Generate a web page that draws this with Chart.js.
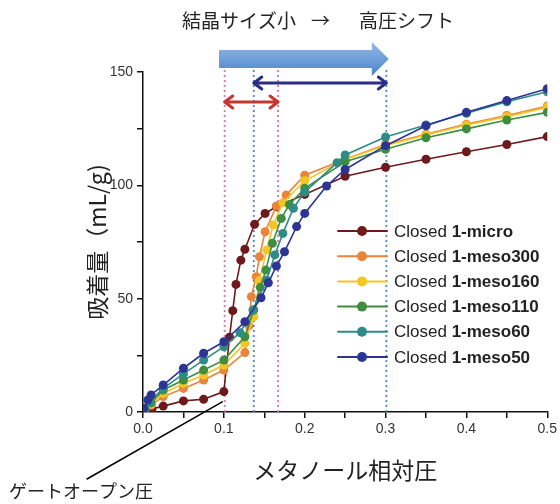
<!DOCTYPE html>
<html>
<head>
<meta charset="utf-8">
<script src="https://cdn.jsdelivr.net/npm/chart.js@4.4.1/dist/chart.umd.min.js"></script>
<style>
  html, body { margin: 0; padding: 0; background: #fff; }
</style>
</head>
<body>
<canvas id="chart" width="560" height="504"></canvas>
<script>
// axis ticks
const pressureTicks = ['0.0', '0.1', '0.2', '0.3', '0.4', '0.5'];
const uptakeTicks = ['0', '50', '100', '150'];

// series (relative pressure / uptake mL/g)
const seriesNames = ['1-micro', '1-meso300', '1-meso160', '1-meso110', '1-meso60', '1-meso50'];

const microP = [0.003, 0.011, 0.025, 0.05, 0.075, 0.1, 0.107, 0.111, 0.115, 0.121, 0.126, 0.138, 0.151, 0.165, 0.2, 0.25, 0.30, 0.35, 0.40, 0.45, 0.50];
const microQ = [0.5, 1.3, 2.6, 4.9, 5.6, 9, 33, 44.7, 56.3, 67, 71.8, 82.8, 87.6, 90.6, 96, 104, 108, 111.5, 114.8, 118, 121.5];

const meso300P = [0.002, 0.01, 0.025, 0.05, 0.075, 0.1, 0.126, 0.131, 0.134, 0.14, 0.144, 0.151, 0.165, 0.177, 0.2, 0.25, 0.30, 0.35, 0.40, 0.45, 0.50];
const meso300Q = [0.6, 3, 6.8, 10.4, 14.1, 18.5, 26.2, 38, 50.9, 59.7, 68.5, 79.5, 90.9, 95.7, 104.5, 111.5, 118, 122.5, 127, 130.8, 135];

const meso160P = [0.002, 0.01, 0.025, 0.05, 0.075, 0.1, 0.126, 0.137, 0.144, 0.153, 0.161, 0.173, 0.2, 0.25, 0.30, 0.35, 0.40, 0.45, 0.50];
const meso160Q = [0.8, 3.5, 8.2, 12.6, 16.3, 20.7, 30.3, 42, 58, 71.5, 82.5, 92.3, 102, 111.5, 117.6, 122.2, 126.6, 130.3, 134.4];

const meso110P = [0.002, 0.01, 0.025, 0.05, 0.075, 0.1, 0.126, 0.137, 0.145, 0.152, 0.16, 0.171, 0.181, 0.2, 0.25, 0.30, 0.35, 0.40, 0.45, 0.50];
const meso110Q = [1, 4, 9.7, 14.1, 18.5, 22.9, 33.2, 45, 55, 62.6, 74.4, 85.4, 91.5, 98.7, 110.4, 115.9, 121, 124.9, 128.8, 132.2];

const meso60P = [0.002, 0.008, 0.025, 0.05, 0.075, 0.1, 0.12, 0.136, 0.153, 0.163, 0.173, 0.186, 0.2, 0.24, 0.25, 0.30, 0.35, 0.40, 0.45, 0.50];
const meso60Q = [1.2, 4.5, 10.4, 16.8, 22.9, 28.8, 35, 45, 58.2, 69.3, 78.8, 89.9, 97, 110, 113.4, 121.3, 126.6, 131.8, 136.9, 141.3];

const meso50P = [0.001, 0.006, 0.01, 0.025, 0.05, 0.075, 0.1, 0.126, 0.146, 0.155, 0.165, 0.175, 0.19, 0.2, 0.227, 0.25, 0.30, 0.35, 0.40, 0.45, 0.50];
const meso50Q = [1.6, 5.3, 7.5, 11.9, 19.3, 25.9, 31, 39.8, 50.4, 57, 64.4, 70.7, 81.8, 87.6, 99.7, 107, 117.5, 126.3, 132.2, 137.4, 142.6];

// gate-open pressures marked by the dotted lines
const pinkMarks = [0.101, 0.167];
const blueMarks = [0.137, 0.301];

const colors = ['#6e1a1d', '#e8853a', '#f3c623', '#3f8e3f', '#2f8b86', '#2c3593'];

function pairs(px, qy) {
  return px.map((p, i) => ({ x: p, y: qy[i] }));
}

const allP = [microP, meso300P, meso160P, meso110P, meso60P, meso50P];
const allQ = [microQ, meso300Q, meso160Q, meso110Q, meso60Q, meso50Q];

const datasets = seriesNames.map((name, i) => ({
  label: 'Closed ' + name,
  data: pairs(allP[i], allQ[i]),
  showLine: true,
  borderColor: colors[i],
  backgroundColor: colors[i],
  borderWidth: 1.6,
  pointRadius: 4.5,
  pointBorderWidth: 0,
  order: 6 - i
}));

function dotted(ctx, x, y0, y1, color) {
  ctx.strokeStyle = color;
  ctx.beginPath();
  ctx.moveTo(x, y0);
  ctx.lineTo(x, y1);
  ctx.stroke();
}

function doubleArrow(ctx, x0, x1, y, color) {
  ctx.strokeStyle = color;
  ctx.lineWidth = 3;
  ctx.lineCap = 'round';
  ctx.lineJoin = 'round';
  ctx.beginPath();
  ctx.moveTo(x0, y);
  ctx.lineTo(x1, y);
  ctx.moveTo(x0 + 8, y - 6);
  ctx.lineTo(x0, y);
  ctx.lineTo(x0 + 8, y + 6);
  ctx.moveTo(x1 - 8, y - 6);
  ctx.lineTo(x1, y);
  ctx.lineTo(x1 - 8, y + 6);
  ctx.stroke();
}

const deco = {
  id: 'deco',
  beforeDatasetsDraw(chart) {
    const { ctx, scales: { x, y } } = chart;
    const bottom = y.getPixelForValue(0);
    ctx.save();
    ctx.lineWidth = 1.8;
    ctx.setLineDash([2, 3]);
    pinkMarks.forEach(v => dotted(ctx, x.getPixelForValue(v), 70, bottom, '#d977a5'));
    blueMarks.forEach(v => dotted(ctx, x.getPixelForValue(v), 70, bottom, '#4a8ad2'));
    ctx.restore();
  },
  afterDraw(chart) {
    const { ctx, scales: { x, y } } = chart;
    ctx.save();

    // big shift arrow
    const ax0 = x.getPixelForValue(0.094);
    const ax1 = x.getPixelForValue(0.304);
    const axh = ax1 - 17;
    const grad = ctx.createLinearGradient(0, 43, 0, 76);
    grad.addColorStop(0, '#8fb8e8');
    grad.addColorStop(1, '#4d84cb');
    ctx.fillStyle = grad;
    ctx.beginPath();
    ctx.moveTo(ax0, 50);
    ctx.lineTo(axh, 50);
    ctx.lineTo(axh, 42);
    ctx.lineTo(ax1, 59);
    ctx.lineTo(axh, 76);
    ctx.lineTo(axh, 68);
    ctx.lineTo(ax0, 68);
    ctx.closePath();
    ctx.fill();

    // range arrows
    doubleArrow(ctx, x.getPixelForValue(pinkMarks[0]), x.getPixelForValue(pinkMarks[1]), 102, '#c8352f');
    doubleArrow(ctx, x.getPixelForValue(blueMarks[0]), x.getPixelForValue(blueMarks[1]), 83, '#2a2e85');

    // heading
    ctx.fillStyle = '#222';
    ctx.font = '19px "Noto Sans CJK JP"';
    ctx.textBaseline = 'middle';
    ctx.textAlign = 'left';
    ctx.fillText('結晶サイズ小', 182, 21);
    ctx.fillText('→', 311, 21);
    ctx.fillText('高圧シフト', 359, 21);

    // gate open pointer
    ctx.strokeStyle = '#000';
    ctx.lineWidth = 1.5;
    ctx.beginPath();
    ctx.moveTo(87, 479);
    ctx.lineTo(x.getPixelForValue(0.098), y.getPixelForValue(4.5));
    ctx.stroke();
    ctx.font = '18px "Noto Sans CJK JP"';
    ctx.fillStyle = '#222';
    ctx.fillText('ゲートオープン圧', 9, 491);

    // legend
    seriesNames.forEach((name, i) => {
      const ly = 231 + i * 25.2;
      ctx.strokeStyle = colors[i];
      ctx.lineWidth = 2;
      ctx.beginPath();
      ctx.moveTo(338, ly);
      ctx.lineTo(387, ly);
      ctx.stroke();
      ctx.fillStyle = colors[i];
      ctx.beginPath();
      ctx.arc(362, ly, 5, 0, Math.PI * 2);
      ctx.fill();
      ctx.fillStyle = '#222';
      ctx.font = '17px "Liberation Sans"';
      ctx.fillText('Closed ', 394, ly + 1);
      const w = ctx.measureText('Closed ').width;
      ctx.font = 'bold 17px "Liberation Sans"';
      ctx.fillText(name, 394 + w, ly + 1);
    });
    ctx.restore();
  }
};

new Chart(document.getElementById('chart'), {
  type: 'scatter',
  data: { datasets: datasets },
  plugins: [deco],
  options: {
    responsive: false,
    animation: false,
    layout: { padding: { top: 72, right: 12, left: 0, bottom: 0 } },
    plugins: {
      legend: { display: false },
      tooltip: { enabled: false }
    },
    scales: {
      x: {
        type: 'linear',
        min: 0,
        max: 0.5,
        afterFit(scale) { scale.height = 92; },
        border: { display: true, color: '#111', width: 1.5 },
        grid: { display: true, drawOnChartArea: false, drawTicks: true, tickLength: 6, color: '#111', lineWidth: 1.5 },
        ticks: {
          stepSize: 0.05,
          padding: 3,
          color: '#333',
          font: { family: 'Liberation Sans', size: 14 },
          maxRotation: 0,
          autoSkip: false,
          callback(v) {
            const k = Math.round(v * 20);
            return k % 2 === 0 ? pressureTicks[k / 2] : '';
          }
        },
        title: {
          display: true,
          text: 'メタノール相対圧',
          color: '#222',
          font: { family: 'Noto Sans CJK JP', size: 23 },
          padding: { top: 0, bottom: 20 }
        }
      },
      y: {
        type: 'linear',
        min: 0,
        max: 150,
        afterFit(scale) { scale.width = 143; },
        border: { display: true, color: '#111', width: 1.5 },
        grid: { display: true, drawOnChartArea: false, drawTicks: true, tickLength: 6, color: '#111', lineWidth: 1.5 },
        ticks: {
          stepSize: 25,
          padding: 4,
          color: '#333',
          font: { family: 'Liberation Sans', size: 14 },
          autoSkip: false,
          callback(v) {
            return v % 50 === 0 ? uptakeTicks[v / 50] : '';
          }
        },
        title: {
          display: true,
          text: '吸着量（mL/g)',
          color: '#222',
          font: { family: 'Noto Sans CJK JP', size: 23 },
          padding: { top: 83, bottom: 0 }
        }
      }
    }
  }
});
</script>
</body>
</html>
